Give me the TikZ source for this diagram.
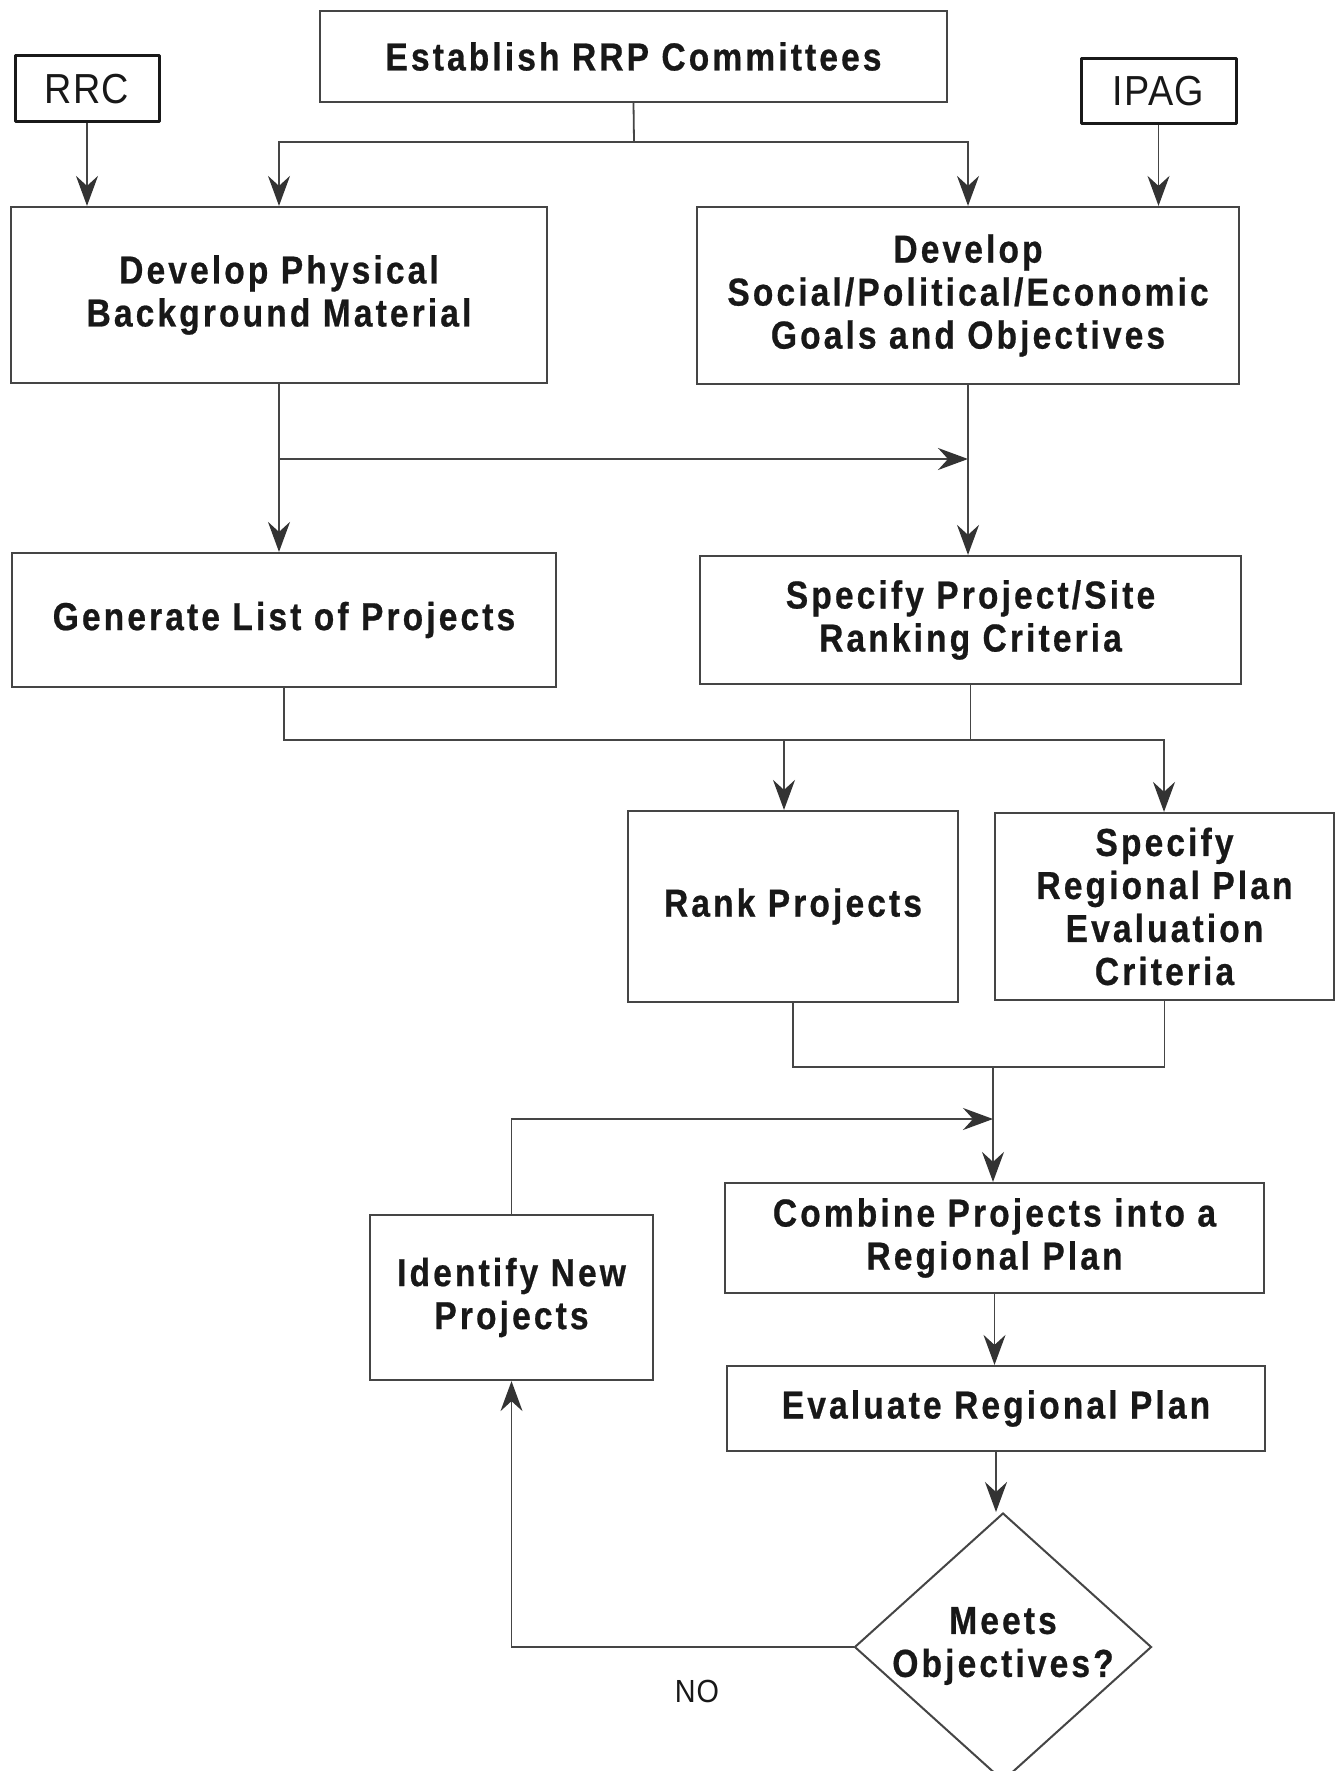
\documentclass[tikz,border=0pt]{standalone}
\usepackage{fontspec}
\setmainfont{Liberation Sans}
\newfontfamily\bxfont{Liberation Sans}[FakeStretch=0.86, LetterSpace=8, FakeBold=0.6]
\newfontfamily\srcfont{Liberation Sans}[FakeStretch=0.9, LetterSpace=3]
\usetikzlibrary{arrows.meta,shapes.geometric}
\definecolor{ln}{HTML}{454545}
\definecolor{ah}{HTML}{333333}
\definecolor{tx}{HTML}{181818}
\begin{document}
\begin{tikzpicture}[x=1pt,y=-1pt,
  box/.style={draw=ln, line width=2.2pt, inner sep=0pt, align=center, text=tx,
    font=\bxfont\bfseries\fontsize{39}{43}\selectfont},
  srcbox/.style={draw=black!90, line width=3pt, line join=round, inner sep=0pt, text=tx,
    font=\srcfont\fontsize{42}{46}\selectfont},
  conn/.style={draw=ln, line width=1.8pt},
  arr/.style={conn, -{Stealth[length=30pt, width=22pt, inset=10pt, color=ah]}}
]
\fill[white] (0,0) rectangle (1343,1771);
\useasboundingbox (0,0) rectangle (1343,1771);

% boxes
\node[box, minimum width=627, minimum height=91] (est) at (633.5,56.5) {Establish RRP Committees};
\node[srcbox, minimum width=144, minimum height=66] (rrc) at (87,89) {RRC};
\node[srcbox, minimum width=155, minimum height=65] (ipag) at (1158.5,91.5) {IPAG};
\node[box, minimum width=536, minimum height=176] (phys) at (279,295) {Develop Physical\\Background Material};
\node[box, minimum width=542, minimum height=177] (soc) at (968,295.5) {Develop\\Social/Political/Economic\\Goals and Objectives};
\node[box, minimum width=544, minimum height=134] (gen) at (284,620) {Generate List of Projects};
\node[box, minimum width=541, minimum height=128] (spec) at (970.5,620) {Specify Project/Site\\Ranking Criteria};
\node[box, minimum width=330, minimum height=191] (rank) at (793,906.5) {Rank Projects};
\node[box, minimum width=339, minimum height=187] (crit) at (1164.5,906.5) {Specify\\Regional Plan\\Evaluation\\Criteria};
\node[box, minimum width=539, minimum height=110] (comb) at (994.5,1238) {Combine Projects into a\\Regional Plan};
\node[box, minimum width=283, minimum height=165] (ident) at (511.5,1297.5) {Identify New\\Projects};
\node[box, minimum width=538, minimum height=85] (evalp) at (996,1408.5) {Evaluate Regional Plan};
\node[diamond, draw=ln, line width=2pt, inner sep=0pt, minimum width=297, minimum height=268] (dia) at (1003,1647) {};
\node[box, draw=none] (diatext) at (1003,1646) {Meets\\Objectives?};
\node[text=tx, font=\srcfont\fontsize{32}{36}\selectfont, inner sep=0pt] (no) at (697,1691) {NO};

% connectors
\coordinate (j1) at (634,142);
\draw[conn] (est.south) -- (j1);
\draw[arr] (j1) -| (phys.north);
\draw[arr] (j1) -| (soc.north);
\draw[arr] (rrc.south) -- (rrc.south |- phys.north);
\draw[arr] (ipag.south) -- (ipag.south |- soc.north);

\draw[arr] (phys.south) -- (phys.south |- gen.north);
\coordinate (j2) at (279,459);
\draw[arr] (j2) -- (j2 -| soc.south);
\draw[arr] (soc.south) -- (soc.south |- spec.north);

\coordinate (h3) at (1164,740);
\coordinate (a3) at (784,740);
\draw[arr] (gen.south) |- (h3) -- (h3 |- crit.north);
\draw[conn] (spec.south) -- (spec.south |- h3);
\draw[arr] (a3) -- (a3 |- rank.north);

\coordinate (h4) at (993,1066);
\draw[conn] (rank.south) -- ++(0,64) -| (crit.south);
\draw[arr] (h4) -- (h4 |- comb.north);
\coordinate (j5) at (993,1119);
\draw[arr] (ident.north) |- (j5);

\draw[arr] (comb.south) -- (comb.south |- evalp.north);
\draw[arr] (evalp.south) -- (evalp.south |- dia.north);
\draw[arr] (dia.west) -| (ident.south);
\end{tikzpicture}
\end{document}
